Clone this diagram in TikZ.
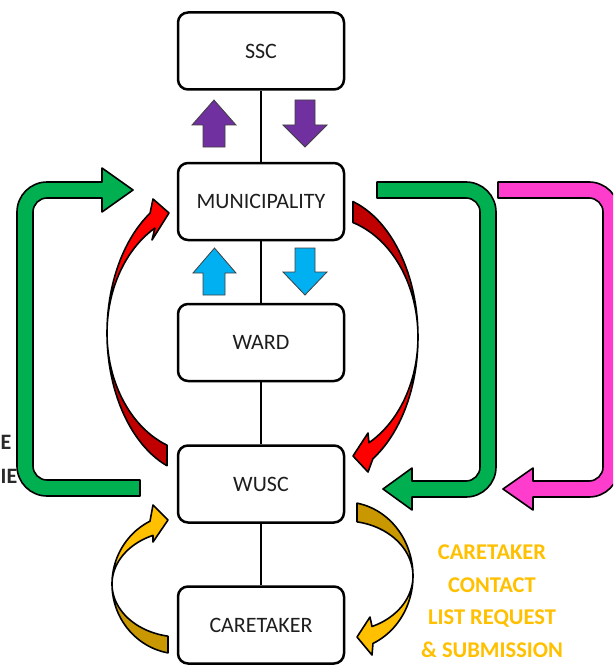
\documentclass[tikz,border=0pt]{standalone}
\usepackage{fontspec}
\setmainfont{Carlito}
\definecolor{ink}{HTML}{1E1E1E}
\definecolor{sideink}{HTML}{2A2A2A}
\definecolor{rlight}{HTML}{FF0000}
\definecolor{rdark}{HTML}{C00000}
\definecolor{ylight}{HTML}{FFC000}
\definecolor{ydark}{HTML}{C99700}
\definecolor{grn}{HTML}{00B050}
\definecolor{pnk}{HTML}{FF3DCC}
\definecolor{purp}{HTML}{7030A0}
\definecolor{sky}{HTML}{00B0F0}
\definecolor{blockedge}{HTML}{404040}
\begin{document}
\begin{tikzpicture}[x=1pt,y=-1pt,
  level/.style={draw=black, line width=2.5pt, rounded corners=10pt, fill=white,
    minimum width=166pt, minimum height=77pt, inner sep=0pt,
    font=\fontsize{22}{26}\selectfont, text=ink},
  link/.style={line width=2.5pt},
  block/.style={draw=blockedge, line width=0.8pt, line join=miter},
  band/.style={draw=black, line width=1.6pt, line join=round},
  note/.style={font=\bfseries\fontsize{22.5}{32.5}\selectfont, text=ylight, align=center, inner sep=0pt},
  sidenote/.style={font=\bfseries\fontsize{22}{26}\selectfont, text=sideink, inner sep=0pt}]
\clip (0,0) rectangle (613,666);
\fill[white] (0,0) rectangle (613,666);

% hierarchy boxes
\node[level] (ssc)  at (261,51)    {SSC};
\node[level] (mun)  at (261,201.5) {MUNICIPALITY};
\node[level] (ward) at (261,342.5) {WARD};
\node[level] (wusc) at (261,484)   {WUSC};
\node[level] (care) at (261,625)   {CARETAKER};

\draw[link] (ssc) -- (mun);
\draw[link] (mun) -- (ward);
\draw[link] (ward) -- (wusc);
\draw[link] (wusc) -- (care);

% block arrows between SSC and municipality
\draw[block, fill=purp] (203,147) -- (203,125) -- (192,125) -- (214,100) -- (236,125) -- (225,125) -- (225,147) -- cycle;
\draw[block, fill=purp] (295,100) -- (315,100) -- (315,125) -- (327,125) -- (305,147) -- (283,125) -- (295,125) -- cycle;

% block arrows between municipality and ward
\draw[block, fill=sky] (203,295) -- (203,273) -- (193,273) -- (214.5,248) -- (236,273) -- (225,273) -- (225,295) -- cycle;
\draw[block, fill=sky] (295,248) -- (315,248) -- (315,272) -- (327,272) -- (305,295) -- (283,272) -- (295,272) -- cycle;

% green loop on the left
\draw[band, fill=grn] (140,496) -- (47,496) arc[start angle=270, end angle=180, radius=30pt]
  -- (17,212) arc[start angle=180, end angle=90, radius=30pt]
  -- (102,182) -- (102,168) -- (133,190) -- (102,212) -- (102,198)
  -- (47,198) arc[start angle=90, end angle=180, radius=14pt]
  -- (33,466) arc[start angle=180, end angle=270, radius=14pt]
  -- (140,480) -- cycle;

% green loop on the right
\draw[band, fill=grn] (377,182) -- (466,182) arc[start angle=90, end angle=0, radius=30pt]
  -- (496,467) arc[start angle=0, end angle=-90, radius=30pt]
  -- (412,497) -- (412,510) -- (383,489) -- (412,468) -- (412,481)
  -- (466,481) arc[start angle=-90, end angle=0, radius=14pt]
  -- (480,212) arc[start angle=0, end angle=90, radius=14pt]
  -- (377,198) -- cycle;

% pink loop
\draw[band, fill=pnk] (498,182) -- (589,182) arc[start angle=90, end angle=0, radius=30pt]
  -- (619,467) arc[start angle=0, end angle=-90, radius=30pt]
  -- (533,497) -- (533,510) -- (503,489) -- (533,468) -- (533,481)
  -- (589,481) arc[start angle=-90, end angle=0, radius=14pt]
  -- (603,212) arc[start angle=0, end angle=90, radius=14pt]
  -- (498,198) -- cycle;

% red curved arrow, WUSC up to municipality
\fill[rlight] plot[domain=110.8:237.5, samples=50] ({200+93*cos(\x)},{333+142*sin(\x)})
  -- (153,199) -- (169,213) -- (152,240)
  -- plot[domain=241:110.8, samples=50] ({200+93*cos(\x)},{333+120*sin(\x)}) -- cycle;
\fill[rdark] plot[domain=110.8:180, samples=30] ({200+93*cos(\x)},{333+142*sin(\x)})
  -- plot[domain=180:110.8, samples=30] ({200+93*cos(\x)},{333+120*sin(\x)}) -- cycle;
\draw[band] plot[domain=110.8:237.5, samples=50] ({200+93*cos(\x)},{333+142*sin(\x)})
  -- (153,199) -- (169,213) -- (152,240)
  -- plot[domain=241:110.8, samples=50] ({200+93*cos(\x)},{333+120*sin(\x)}) -- cycle;

% red curved arrow, municipality down to WUSC
\fill[rlight] plot[domain=-72.5:59, samples=50] ({325+93*cos(\x)},{337+142*sin(\x)})
  -- (368,472) -- (353,456) -- (368,433)
  -- plot[domain=61.8:-72.5, samples=50] ({325+93*cos(\x)},{337+120*sin(\x)}) -- cycle;
\fill[rdark] plot[domain=-72.5:0, samples=30] ({325+93*cos(\x)},{337+142*sin(\x)})
  -- plot[domain=0:-72.5, samples=30] ({325+93*cos(\x)},{337+120*sin(\x)}) -- cycle;
\draw[band] plot[domain=-72.5:59, samples=50] ({325+93*cos(\x)},{337+142*sin(\x)})
  -- (368,472) -- (353,456) -- (368,433)
  -- plot[domain=61.8:-72.5, samples=50] ({325+93*cos(\x)},{337+120*sin(\x)}) -- cycle;

% gold curved arrow, caretaker up to WUSC
\fill[ylight] plot[domain=100.2:243.8, samples=50] ({180+68*cos(\x)},{584+70*sin(\x)})
  -- (153,505) -- (168,520) -- (153,542)
  -- plot[domain=246.6:100.2, samples=50] ({180+68*cos(\x)},{584+53*sin(\x)}) -- cycle;
\fill[ydark] plot[domain=100.2:180, samples=30] ({180+68*cos(\x)},{584+70*sin(\x)})
  -- plot[domain=180:100.2, samples=30] ({180+68*cos(\x)},{584+53*sin(\x)}) -- cycle;
\draw[band] plot[domain=100.2:243.8, samples=50] ({180+68*cos(\x)},{584+70*sin(\x)})
  -- (153,505) -- (168,520) -- (153,542)
  -- plot[domain=246.6:100.2, samples=50] ({180+68*cos(\x)},{584+53*sin(\x)}) -- cycle;

% gold curved arrow, WUSC down to caretaker
\fill[ylight] plot[domain=-79.8:65.7, samples=50] ({345+68*cos(\x)},{576+74*sin(\x)})
  -- (372,655) -- (357,637) -- (370,617)
  -- plot[domain=66.6:-79.8, samples=50] ({345+68*cos(\x)},{576+55*sin(\x)}) -- cycle;
\fill[ydark] plot[domain=-79.8:0, samples=30] ({345+68*cos(\x)},{576+74*sin(\x)})
  -- plot[domain=0:-79.8, samples=30] ({345+68*cos(\x)},{576+55*sin(\x)}) -- cycle;
\draw[band] plot[domain=-79.8:65.7, samples=50] ({345+68*cos(\x)},{576+74*sin(\x)})
  -- (372,655) -- (357,637) -- (370,617)
  -- plot[domain=66.6:-79.8, samples=50] ({345+68*cos(\x)},{576+55*sin(\x)}) -- cycle;

% labels
\node[note] (caretakernote) at (492,601) {CARETAKER\\CONTACT\\LIST REQUEST\\\& SUBMISSION};
\node[sidenote, anchor=base west] (sideone) at (0.5,449) {E};
\node[sidenote, anchor=base west] (sidetwo) at (0.5,483) {IE};
\end{tikzpicture}
\end{document}
